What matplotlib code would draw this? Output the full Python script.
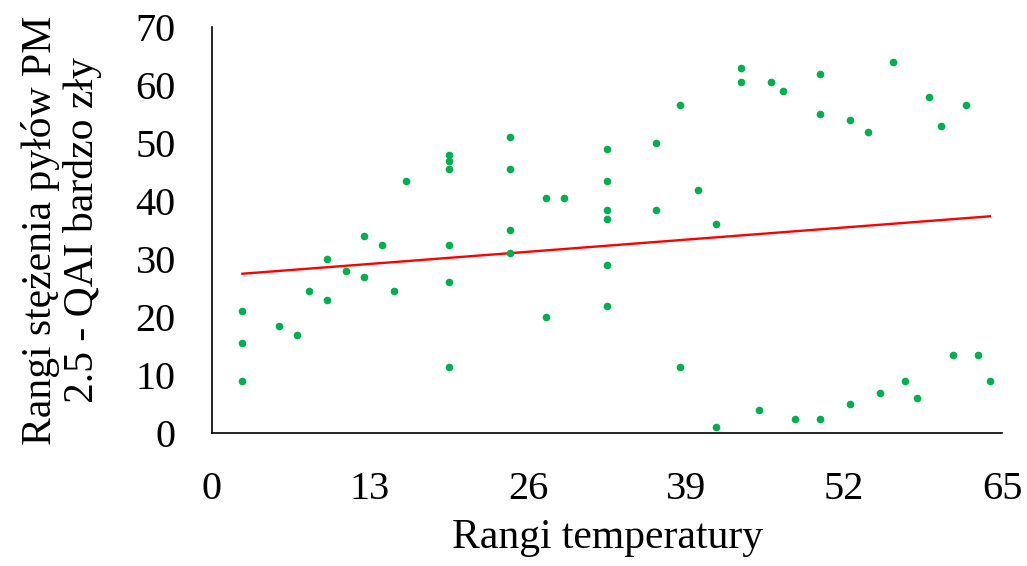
import matplotlib.pyplot as plt
import numpy as np

plt.rcParams['font.family'] = ['Liberation Serif', 'DejaVu Serif']

# ranks (temperature, PM2.5 concentration)
temp_rank = [2.5, 2.5, 2.5, 5.5, 7, 8, 9.5, 9.5, 11, 12.5, 12.5, 14, 15, 16,
             19.5, 19.5, 19.5, 19.5, 19.5, 19.5, 24.5, 24.5, 24.5, 24.5,
             27.5, 27.5, 29, 32.5, 32.5, 32.5, 32.5, 32.5, 32.5,
             36.5, 36.5, 38.5, 38.5, 40, 41.5, 41.5, 43.5, 43.5, 45, 46, 47,
             48, 50, 50, 50, 52.5, 52.5, 54, 55, 56, 57, 58, 59, 60, 61, 62,
             63, 64]
pm_rank = [21, 15.5, 9, 18.5, 17, 24.5, 30, 23, 28, 34, 27, 32.5, 24.5, 43.5,
           48, 47, 45.5, 32.5, 26, 11.5, 51, 45.5, 35, 31,
           40.5, 20, 40.5, 49, 43.5, 38.5, 37, 29, 22,
           50, 38.5, 56.5, 11.5, 42, 36, 1, 63, 60.5, 4, 60.5, 59,
           2.5, 62, 55, 2.5, 54, 5, 52, 7, 64, 9, 6, 58, 53, 13.5, 56.5,
           13.5, 9]

# linear trendline as drawn in the chart (value at first and last x rank)
trend_x = [2.5, 64]
trend_y = [27.5, 37.4]

fig = plt.figure(figsize=(10.27, 5.66), dpi=100)
ax = fig.add_axes([0.2064, 0.2345, 0.7693, 0.7175])

ax.plot(temp_rank, pm_rank, 'o', color='#00B050', ms=5.5, mec='none', zorder=3)
ax.plot(trend_x, trend_y, color='#FF0000', lw=1.7, zorder=2)

ax.set_xlim(0, 65)
ax.set_ylim(0, 70)
ax.set_xticks([0, 13, 26, 39, 52, 65])
ax.set_yticks(range(0, 71, 10))
ax.tick_params(length=0, labelsize=29, pad=26)
ax.tick_params(axis='x', pad=27)
for s in ['top', 'right']:
    ax.spines[s].set_visible(False)
for s in ['left', 'bottom']:
    ax.spines[s].set_linewidth(1.2)

ax.set_xlabel('Rangi temperatury', fontsize=30, labelpad=8)
ax.set_ylabel('Rangi stężenia pyłów PM\n2.5 - QAI bardzo zły', fontsize=30,
              labelpad=24, linespacing=1.1)

fig.savefig('out.png', dpi=100)
